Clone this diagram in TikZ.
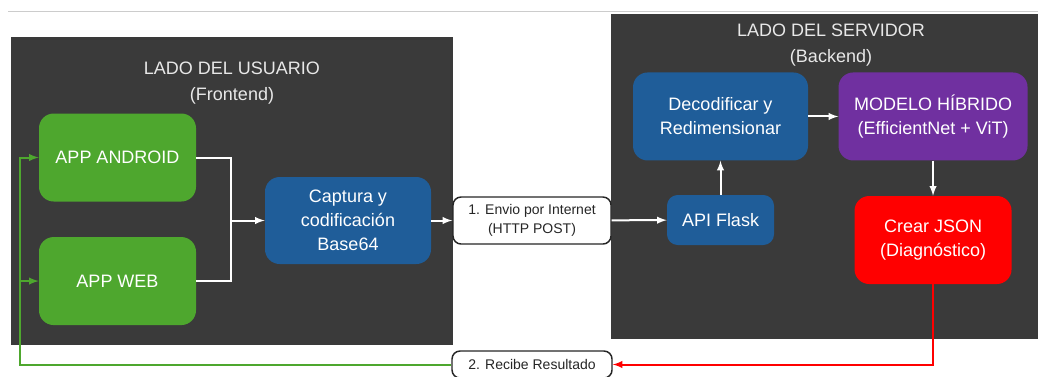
\documentclass[tikz,border=0pt]{standalone}
\usepackage{fontspec}
\setmainfont{Liberation Sans}
\usepackage{tikz}
\usetikzlibrary{arrows,positioning}
\definecolor{panel}{RGB}{58, 58, 58}
\definecolor{appgreen}{RGB}{78, 167, 46}
\definecolor{procblue}{RGB}{31, 93, 153}
\definecolor{modpurple}{RGB}{112, 48, 160}
\definecolor{jsonred}{RGB}{255, 0, 0}
\definecolor{titlegray}{RGB}{232, 232, 232}
\tikzstyle{box} = [rectangle, rounded corners=11pt, text=white, align=center, font=\fontsize{13.5}{18}\selectfont, inner sep=0pt]
\tikzstyle{app} = [box, fill=appgreen, minimum width=117.75pt, minimum height=66pt]
\tikzstyle{proc} = [box, fill=procblue]
\tikzstyle{msg} = [rectangle, rounded corners=6pt, draw=black!85, line width=1.1pt, fill=white, text=black!85, align=center, font=\fontsize{10.5}{14}\selectfont, inner sep=0pt]
\tikzstyle{title} = [draw=none, fill=none, text=titlegray, align=center, font=\fontsize{13.5}{19.5}\selectfont]
\tikzstyle{tedge} = [draw, white, line width=1.5pt, >=latex, ->]
\tikzstyle{tline} = [draw, white, line width=1.5pt]
\tikzstyle{gedge} = [draw, appgreen, line width=1.5pt, >=latex, ->]
\tikzstyle{redge} = [draw, jsonred, line width=1.5pt, >=latex, ->]

\begin{document}
\begin{tikzpicture}[x=0.75pt, y=-0.75pt]
\useasboundingbox (0,0) rectangle (1038,376);

% panels =============================
\draw[black!20, line width=0.75pt] (8,11) -- (1038,11);
\fill[panel] (11,37) rectangle (453,345);
\fill[panel] (611,14) rectangle (1040,339);

\node[title] (usuario) at (232,83) {LADO DEL USUARIO\\(Frontend)};
\node[title] (servidor) at (831,45) {LADO DEL SERVIDOR\\(Backend)};

% nodes =============================
\node[app] (android) at (117.5,157.5) {APP ANDROID};
\node[app, below=26.25pt of android] (web) {APP WEB};
\node[proc, minimum width=124.5pt, minimum height=65.25pt] (captura) at (348,220.5) {Captura y\\codificación\\Base64};
\node[msg, minimum width=118.5pt, minimum height=35.25pt] (envio) at (532,220.5) {1. Envio por Internet\\(HTTP POST)};
\node[proc, rounded corners=8pt, minimum width=80.25pt, minimum height=37.5pt] (api) at (720.5,220) {API Flask};
\node[proc, minimum width=131.25pt, minimum height=66pt, above=25.5pt of api] (decod) {Decodificar y\\Redimensionar};
\node[box, fill=modpurple, minimum width=141.75pt, minimum height=66pt, right=22.5pt of decod] (modelo) {MODELO HÍBRIDO\\(EfficientNet + ViT)};
\node[box, fill=jsonred, minimum width=117.75pt, minimum height=66pt, below=26.25pt of modelo] (json) {Crear JSON\\(Diagnóstico)};
\node[msg, minimum width=120pt, minimum height=20.25pt] (recibe) at (532,364.5) {2. Recibe Resultado};

\coordinate (join) at (231,220.5);
\coordinate (back) at (20,0);

% edges
\path[tline] (android.east) -| (join);
\path[tline] (web.east) -| (join);
\path[tedge] (join) -- (captura);
\path[tedge] (captura) -- (envio);
\path[tedge] (envio) -- (api);
\path[tedge] (api) -- (decod);
\path[tedge] (decod) -- (modelo);
\path[tedge] (modelo) -- (json);

% return edges
\path[redge] (json.south) |- (recibe.east);
\path[gedge] (recibe.west) -| (back |- android.west) -- (android.west);
\path[gedge] (back |- recibe.west) |- (web.west);

\end{tikzpicture}
\end{document}
